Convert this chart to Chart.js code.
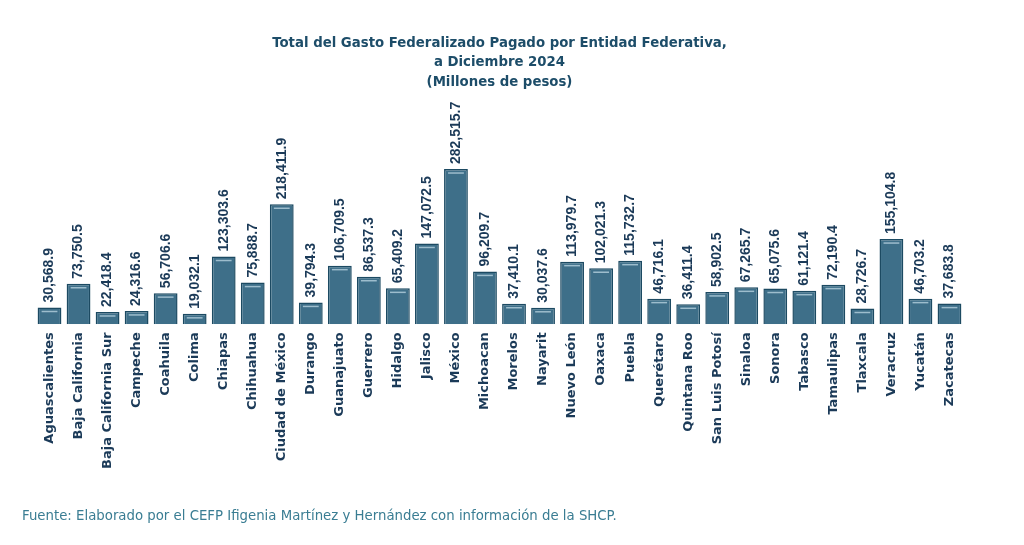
<!DOCTYPE html>
<html>
<head>
<meta charset="utf-8">
<script src="https://cdn.jsdelivr.net/npm/chart.js@4"></script>
<style>
    body { margin: 0; background: #fff; }
    .wrap { position: relative; width: 1024px; height: 545px; }
    .fuente { position: absolute; left: 22px; top: 508px; font-family: 'DejaVu Sans', sans-serif; font-size: 13.3px; color: #3a7d93; }
</style>
</head>
<body>
<div class="wrap">
    <canvas id="gastoChart" width="1024" height="545"></canvas>
    <div class="fuente">Fuente: Elaborado por el CEFP Ifigenia Martínez y Hernández con información de la SHCP.</div>
</div>
<script>
const estados = ['Aguascalientes', 'Baja California', 'Baja California Sur', 'Campeche', 'Coahuila', 'Colima',
    'Chiapas', 'Chihuahua', 'Ciudad de México', 'Durango', 'Guanajuato', 'Guerrero', 'Hidalgo', 'Jalisco',
    'México', 'Michoacan', 'Morelos', 'Nayarit', 'Nuevo León', 'Oaxaca', 'Puebla', 'Querétaro',
    'Quintana Roo', 'San Luis Potosí', 'Sinaloa', 'Sonora', 'Tabasco', 'Tamaulipas', 'Tlaxcala',
    'Veracruz', 'Yucatán', 'Zacatecas'];
const gastoPagado = [30568.9, 73750.5, 22418.4, 24316.6, 56706.6, 19032.1, 123303.6, 75888.7, 218411.9,
    39794.3, 106709.5, 86537.3, 65409.2, 147072.5, 282515.7, 96209.7, 37410.1, 30037.6, 113979.7,
    102021.3, 115732.7, 46716.1, 36411.4, 58902.5, 67265.7, 65075.6, 61121.4, 72190.4, 28726.7,
    155104.8, 46703.2, 37683.8];

const darkText = '#1b3a58';

// rotated value labels + light highlight line on each bar
const valueLabels = {
    id: 'valueLabels',
    afterDatasetsDraw(chart) {
        const ctx = chart.ctx;
        const meta = chart.getDatasetMeta(0);
        ctx.save();
        meta.data.forEach((bar, i) => {
            const half = bar.width / 2;
            ctx.strokeStyle = 'rgba(190,215,228,0.75)';
            ctx.lineWidth = 1.5;
            ctx.beginPath();
            ctx.moveTo(bar.x - half + 4, bar.y + 4);
            ctx.lineTo(bar.x + half - 4, bar.y + 4);
            ctx.stroke();

            const txt = gastoPagado[i].toLocaleString('en-US', { minimumFractionDigits: 1, maximumFractionDigits: 1 });
            ctx.save();
            ctx.translate(bar.x, bar.y - 5);
            ctx.rotate(-Math.PI / 2);
            ctx.fillStyle = darkText;
            ctx.font = 'bold 14px "Liberation Sans", Arial, sans-serif';
            ctx.textAlign = 'left';
            ctx.textBaseline = 'middle';
            ctx.fillText(txt, 0, 0);
            ctx.restore();
        });
        ctx.restore();
    }
};

new Chart(document.getElementById('gastoChart'), {
    type: 'bar',
    data: {
        labels: estados,
        datasets: [{
            data: gastoPagado,
            backgroundColor: '#3e6f89',
            borderColor: '#1c4a62',
            borderWidth: 1.5,
            barPercentage: 0.82,
            categoryPercentage: 1
        }]
    },
    options: {
        responsive: false,
        animation: false,
        layout: { padding: { left: 35, right: 60, top: 0, bottom: 68 } },
        plugins: {
            legend: { display: false },
            tooltip: { enabled: false },
            title: {
                display: true,
                text: ['Total del Gasto Federalizado Pagado por Entidad Federativa,', 'a Diciembre 2024', '(Millones de pesos)'],
                color: '#1d4d69',
                font: { family: 'DejaVu Sans', size: 13.3, weight: 'bold', lineHeight: 1.45 },
                padding: { top: 34, bottom: 17 }
            }
        },
        scales: {
            x: {
                grid: { display: false, drawTicks: false },
                border: { display: false },
                ticks: {
                    minRotation: 90,
                    maxRotation: 90,
                    autoSkip: false,
                    padding: 8,
                    color: darkText,
                    font: { family: 'DejaVu Sans', size: 13, weight: 'bold' }
                }
            },
            y: {
                display: false,
                min: 0,
                max: 392000
            }
        }
    },
    plugins: [valueLabels]
});
</script>
</body>
</html>
